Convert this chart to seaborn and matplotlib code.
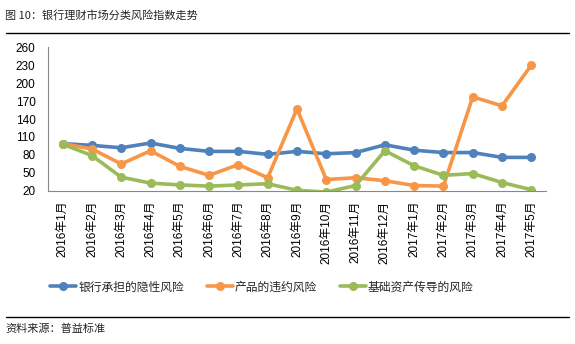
import matplotlib
matplotlib.use("Agg")
import matplotlib.pyplot as plt
import seaborn as sns
import pandas as pd
from matplotlib.lines import Line2D

months = ["2016年1月", "2016年2月", "2016年3月", "2016年4月", "2016年5月", "2016年6月",
          "2016年7月", "2016年8月", "2016年9月", "2016年10月", "2016年11月", "2016年12月",
          "2017年1月", "2017年2月", "2017年3月", "2017年4月", "2017年5月"]
bank_risk = [99, 96, 92, 100, 91, 86, 86, 81, 86, 82, 84, 97, 88, 84, 84, 76, 76]
default_risk = [99, 90, 65, 87, 61, 46, 64, 42, 157, 39, 42, 37, 29, 28, 177, 162, 230]
asset_risk = [98, 79, 43, 33, 30, 28, 30, 32, 21, 18, 29, 87, 62, 46, 49, 34, 22]
series_names = ["银行承担的隐性风险", "产品的违约风险", "基础资产传导的风险"]
yticks = [20, 50, 80, 110, 140, 170, 200, 230, 260]
title = "图 10：银行理财市场分类风险指数走势"
source = "资料来源：普益标准"

sns.set_theme(style="white")
plt.rcParams['font.family'] = ['Noto Sans CJK SC', 'DejaVu Sans']
mixed = ['Liberation Sans', 'Noto Sans CJK SC', 'DejaVu Sans']

df = pd.DataFrame({"month": months * 3,
                   "value": bank_risk + default_risk + asset_risk,
                   "series": [series_names[0]] * 17 + [series_names[1]] * 17 + [series_names[2]] * 17})
df["x"] = list(range(17)) * 3

colors = ["#4F81BD", "#F79646", "#9BBB59"]

fig = plt.figure(figsize=(5.75, 3.44), dpi=100)
ax = fig.add_axes([0.0835, 0.445, 0.866, 0.418])
sns.lineplot(data=df, x="x", y="value", hue="series", palette=colors, marker="o",
             markersize=6.5, markeredgewidth=0, linewidth=2.6, ax=ax, legend=False)

ax.set_xlim(-0.5, 16.5)
ax.set_ylim(20, 260)
ax.set_yticks(yticks)
ax.set_yticklabels([str(v) for v in yticks], fontsize=8.5, color="black", family=mixed)
ax.set_xticks(range(17))
ax.set_xticklabels(months, rotation=90, fontsize=8.5, color="black", family=mixed)
ax.tick_params(axis="x", length=0, pad=7)
ax.tick_params(axis="y", length=0, pad=9)
ax.set_xticks([i - 0.5 for i in range(18)], minor=True)
ax.tick_params(axis="x", which="minor", length=4, color="#888888", width=0.8, direction="out")
ax.set_xlabel("")
ax.set_ylabel("")
for s in ["top", "right"]:
    ax.spines[s].set_visible(False)
for s in ["left", "bottom"]:
    ax.spines[s].set_color("#888888")
    ax.spines[s].set_linewidth(0.8)

handles = [Line2D([0], [0], color=c, lw=2.6, marker="o", markersize=6.5, markeredgewidth=0) for c in colors]
fig.legend(handles, series_names, loc="center left", bbox_to_anchor=(0.087, 0.166), ncol=3,
           frameon=False, fontsize=8.5, handlelength=2.2, handletextpad=0.2, columnspacing=1.9,
           borderaxespad=0, borderpad=0)

fig.text(0.009, 0.956, title, fontsize=8, va="center", ha="left")
fig.add_artist(Line2D([0.01, 0.99], [0.903, 0.903], color="black", lw=1, transform=fig.transFigure))
fig.add_artist(Line2D([0.01, 0.99], [0.078, 0.078], color="black", lw=1, transform=fig.transFigure))
fig.text(0.009, 0.044, source, fontsize=8, va="center", ha="left")

fig.savefig("out.png", dpi=100)
